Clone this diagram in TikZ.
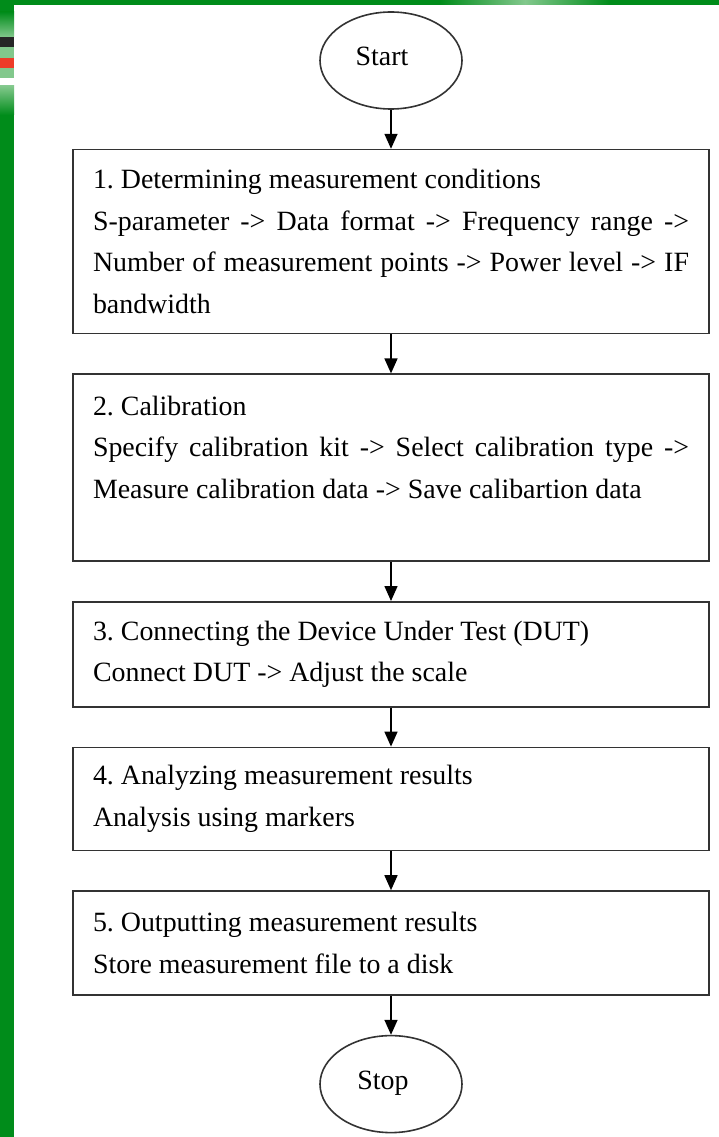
\documentclass[tikz,border=0pt]{standalone}
\usepackage{fontspec}
\setmainfont{Liberation Serif}
\frenchspacing
\usetikzlibrary{shapes}
\usetikzlibrary{positioning}
\usetikzlibrary{arrows.meta}
\definecolor{slidegreen}{RGB}{0,140,26}
\definecolor{palegreen}{RGB}{130,200,140}
\definecolor{stripered}{RGB}{238,60,40}
\tikzstyle{terminal} = [ellipse, draw=black!80, line width=1.6pt, inner sep=0pt,
minimum width=142pt, minimum height=97pt, text depth=8pt, node distance=39pt]
\tikzstyle{stepbox} = [rectangle, draw=black!80, line width=1.6pt, inner xsep=20pt,
inner ysep=0pt, text width=596pt, align=justify, node distance=39pt]
\tikzstyle{flowline} = [->, line width=1.5pt, black]
\tikzset{>={Triangle[width=13pt,length=15pt]}}
\newcommand{\flowchain}[1]{ %
  % Draw an arrow for every pair a/b in #1.
  \foreach \a/\b in {#1} { %
    \draw[flowline] (\a) -- (\b) ;%
  } ;
}

\begin{document}
\begin{tikzpicture}[x=1pt, y=1pt, font=\fontsize{27.9}{41.5}\selectfont]
                % slide background and frame
                \useasboundingbox (0,0) rectangle (719,-1137);
                \fill[white] (0,0) rectangle (719,-1137);
                \fill[slidegreen] (0,0) rectangle (14,-1137);
                \fill[slidegreen] (0,0) rectangle (719,-5);
                \shade[left color=slidegreen, right color=slidegreen, middle color=palegreen] (440,0) rectangle (610,-5);
                \shade[top color=slidegreen, bottom color=palegreen] (0,-12) rectangle (14,-37);
                \fill[black!85] (0,-37) rectangle (14,-47);
                \fill[palegreen] (0,-47) rectangle (14,-58);
                \fill[stripered] (0,-58) rectangle (14,-68);
                \fill[palegreen] (0,-68) rectangle (14,-78);
                \fill[white] (0,-78) rectangle (14,-86);
                \shade[top color=palegreen, bottom color=slidegreen] (0,-86) rectangle (14,-115);

                \node[terminal] (start) at (391,-60.5) {Start\hspace*{18pt}} ; %

                \node[stepbox, minimum height=184pt, below=of start] (conditions)
                  {1. Determining measurement conditions\\
                   S-parameter -> Data format -> Frequency range ->\linebreak
                   Number of measurement points -> Power level -> IF\linebreak
                   bandwidth} ; %

                \node[stepbox, minimum height=187pt, below=of conditions] (calibration)
                  {2. Calibration\\
                   Specify calibration kit -> Select calibration type ->\linebreak
                   Measure calibration data -> Save calibartion data\\
                   \mbox{}} ; %

                \node[stepbox, minimum height=105pt, below=of calibration] (connect)
                  {3. Connecting the Device Under Test (DUT)\\
                   Connect DUT -> Adjust the scale} ; %

                \node[stepbox, minimum height=103pt, below=of connect] (analyze)
                  {4. Analyzing measurement results\\
                   Analysis using markers} ; %

                \node[stepbox, minimum height=104pt, below=of analyze] (output)
                  {5. Outputting measurement results\\
                   Store measurement file to a disk} ; %

                \node[terminal, below=of output] (stop) {Stop\hspace*{16pt}} ; %

                \flowchain{start/conditions, conditions/calibration, calibration/connect,
                  connect/analyze, analyze/output, output/stop}
\end{tikzpicture}
\end{document}
